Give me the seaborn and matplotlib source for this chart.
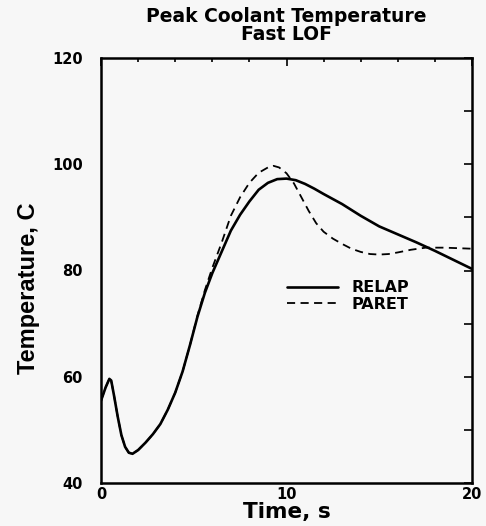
import matplotlib
matplotlib.use("Agg")
import matplotlib.pyplot as plt
import seaborn as sns
import pandas as pd
from matplotlib.ticker import MultipleLocator

# ---- data ----
relap_time = [0.0, 0.1, 0.25, 0.45, 0.55, 0.7, 0.9, 1.1, 1.3, 1.5, 1.7, 2.0, 2.4,
              2.8, 3.2, 3.6, 4.0, 4.4, 4.8, 5.2, 5.6, 6.0, 6.5, 7.0, 7.5, 8.0, 8.5,
              9.0, 9.5, 10.0, 10.5, 11.0, 11.5, 12.0, 13.0, 14.0, 15.0, 16.0, 17.0,
              18.0, 19.0, 20.0]
relap_temp = [55.5, 56.5, 58.0, 59.6, 59.3, 56.5, 52.5, 49.0, 46.8, 45.7, 45.5, 46.2,
              47.6, 49.2, 51.1, 53.8, 57.0, 61.0, 66.0, 71.3, 75.8, 79.5, 83.5, 87.5,
              90.5, 93.0, 95.2, 96.5, 97.2, 97.3, 97.0, 96.3, 95.4, 94.4, 92.5, 90.3,
              88.3, 86.8, 85.3, 83.7, 82.0, 80.3]

paret_time = [0.0, 0.1, 0.25, 0.45, 0.55, 0.7, 0.9, 1.1, 1.3, 1.5, 1.7, 2.0, 2.4,
              2.8, 3.2, 3.6, 4.0, 4.4, 4.8, 5.2, 5.6, 6.0, 6.5, 7.0, 7.5, 8.0, 8.5,
              9.0, 9.3, 9.6, 10.0, 10.4, 10.8, 11.2, 11.6, 12.0, 12.5, 13.0, 13.5,
              14.0, 14.5, 15.0, 15.5, 16.0, 16.7, 17.5, 18.5, 20.0]
paret_temp = [55.5, 56.5, 58.0, 59.6, 59.3, 56.5, 52.5, 49.0, 46.8, 45.7, 45.5, 46.2,
              47.6, 49.2, 51.1, 53.8, 57.0, 61.0, 66.0, 71.5, 76.3, 80.5, 85.2, 90.3,
              93.8, 96.5, 98.4, 99.4, 99.7, 99.4, 98.3, 96.4, 93.8, 91.2, 88.9, 87.3,
              86.0, 85.0, 84.1, 83.5, 83.1, 83.0, 83.1, 83.4, 83.9, 84.3, 84.3, 84.1]

series_labels = ["RELAP", "PARET"]
title_text = "Peak Coolant Temperature\nFast LOF"
x_label = "Time, s"
y_label = "Temperature, C"
x_ticks = [0, 10, 20]
y_ticks = [40, 60, 80, 100, 120]

relap_df = pd.DataFrame({"Time": relap_time, "Temp": relap_temp})
paret_df = pd.DataFrame({"Time": paret_time, "Temp": paret_temp})

sns.set_theme(style="white")
plt.rcParams["font.family"] = ["DejaVu Sans"]
plt.rcParams["text.color"] = "black"
plt.rcParams["axes.labelcolor"] = "black"
plt.rcParams["xtick.color"] = "black"
plt.rcParams["ytick.color"] = "black"
bg = "#f7f7f7"

fig = plt.figure(figsize=(4.86, 5.26), dpi=100, facecolor=bg)
ax = fig.add_axes([101/486, 1-483/526, 371/486, 425/526])
ax.set_facecolor(bg)

sns.lineplot(data=relap_df, x="Time", y="Temp", ax=ax, color="black",
             linewidth=1.9, label=series_labels[0])
sns.lineplot(data=paret_df, x="Time", y="Temp", ax=ax, color="black",
             linewidth=1.3, label=series_labels[1])
ax.lines[1].set_dashes((4.5, 3))

ax.set_xlim(0, 20)
ax.set_ylim(40, 120)
ax.set_xticks(x_ticks)
ax.set_yticks(y_ticks)
ax.xaxis.set_minor_locator(MultipleLocator(2))
ax.yaxis.set_minor_locator(MultipleLocator(10))

for s in ax.spines.values():
    s.set_linewidth(1.8)
    s.set_color("black")

ax.tick_params(axis="both", which="both", direction="in", top=True, right=True,
               color="black", labelcolor="black", width=1.2)
ax.tick_params(axis="x", which="major", length=6, pad=3)
ax.tick_params(axis="x", which="minor", length=3)
ax.tick_params(axis="y", which="both", length=6)
ax.tick_params(axis="y", which="major", pad=13)
for lab in ax.get_xticklabels() + ax.get_yticklabels():
    lab.set_fontsize(10.5)
    lab.set_fontweight("bold")

ax.set_xlabel(x_label, fontsize=15.5, fontweight="bold", labelpad=0, color="black")
ax.set_ylabel(y_label, fontsize=17, fontweight="bold", color="black",
              family=["Liberation Sans Narrow", "Liberation Sans", "DejaVu Sans"])
ax.yaxis.set_label_coords(-0.164, 0.459)

ax.set_title(title_text, fontsize=13.5, fontweight="bold", pad=13, linespacing=0.9,
             color="black")

leg = ax.legend(loc="upper left", bbox_to_anchor=(0.50, 0.477), frameon=False,
                borderpad=0, borderaxespad=0, handlelength=3.2, handletextpad=0.85,
                labelspacing=0.1, prop={"size": 11.5, "weight": "bold"})
for t in leg.get_texts():
    t.set_color("black")

fig.savefig("out.png", dpi=100, facecolor=bg)
